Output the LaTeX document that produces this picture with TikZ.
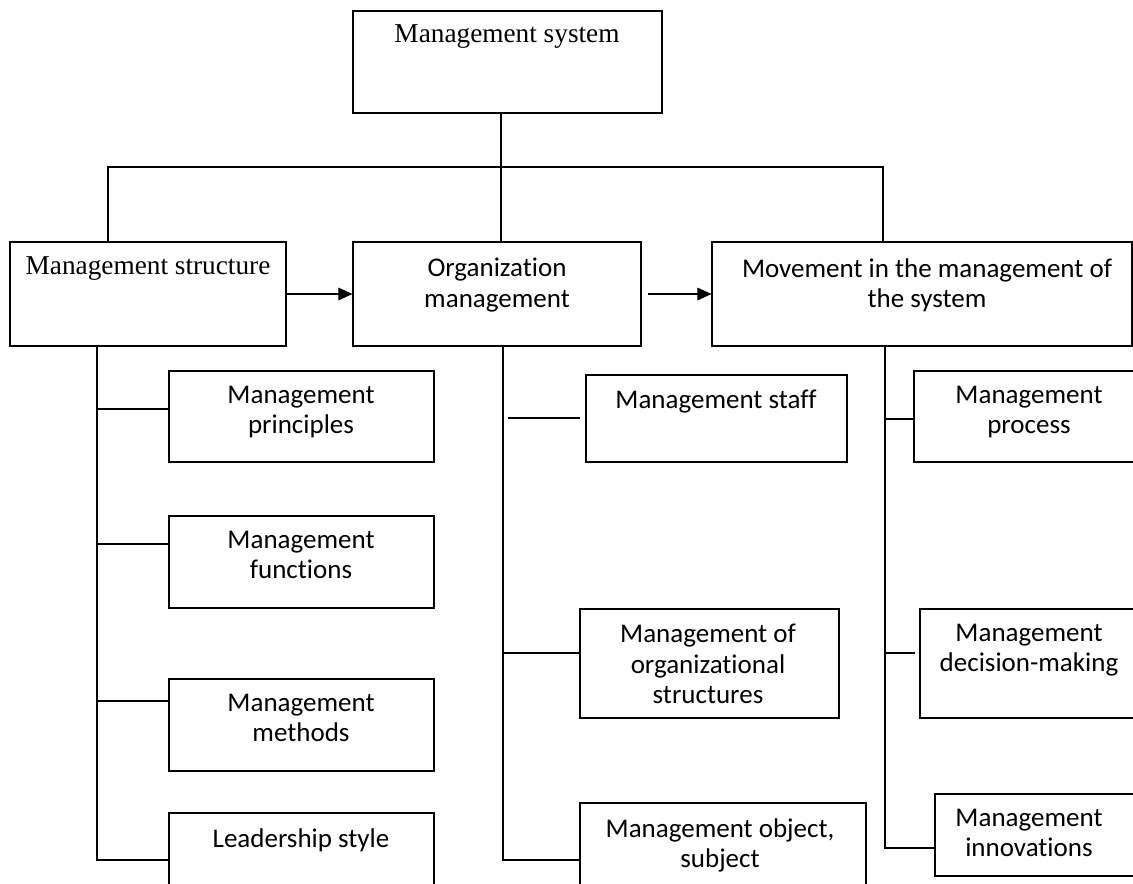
\documentclass[tikz,border=0pt]{standalone}
\usepackage{fontspec}
\setmainfont{Carlito}[Ligatures=NoCommon]
\newfontfamily\timesfont{Liberation Serif}
\usetikzlibrary{fit,arrows.meta,calc}
\tikzset{
  box/.style={draw, line width=0.8pt, inner sep=0pt},
  lbl/.style={anchor=north, inner sep=0pt, align=center, font=\fontsize{19.2}{21.5}\selectfont},
  tlbl/.style={anchor=north, inner sep=0pt, align=center, font=\timesfont\fontsize{19.4}{21.5}\selectfont},
  conn/.style={line width=0.8pt},
  arr/.style={conn, -{Triangle[length=10pt,width=9pt]}}
}
\begin{document}
\begin{tikzpicture}[x=0.025cm,y=-0.025cm]
\useasboundingbox (0,0) rectangle (1133,883);
\clip (0,0) rectangle (1133,883);
\fill[white] (0,0) rectangle (1133,883);
% boxes
\node[box, fit={(353,11)(662,113)}] (sys) {};
\node[box, fit={(10,242)(286,346)}] (struct) {};
\node[box, fit={(353,242)(641,346)}] (org) {};
\node[box, fit={(712,242)(1132,346)}] (mov) {};
\node[box, fit={(169,371)(434,462)}] (princ) {};
\node[box, fit={(169,516)(434,608)}] (func) {};
\node[box, fit={(169,679)(434,771)}] (meth) {};
\node[box, fit={(169,813)(434,905)}] (lead) {};
\node[box, fit={(586,375)(847,462)}] (staff) {};
\node[box, fit={(580,609)(839,718)}] (ostr) {};
\node[box, fit={(580,803)(866,905)}] (obj) {};
\node[box, fit={(914,371)(1145,462)}] (proc) {};
\node[box, fit={(920,609)(1145,718)}] (dec) {};
\node[box, fit={(935,794)(1145,876)}] (inno) {};
% texts
\node[tlbl] (tsys) at (507,24) {Management system};
\node[tlbl] (tstruct) at (148,256) {Management structure};
\node[lbl] (torg) at (497,258) {Organization\\management};
\node[lbl] (tmov) at (927,258) {Movement in the management of\\the system};
\node[lbl] (tprinc) at (301,386) {Management\\principles};
\node[lbl] (tfunc) at (301,531) {Management\\functions};
\node[lbl] (tmeth) at (301,694) {Management\\methods};
\node[lbl] (tlead) at (301,828) {Leadership style};
\node[lbl] (tstaff) at (716,390) {Management staff};
\node[lbl] (tostr) at (708,624) {Management of\\organizational\\structures};
\node[lbl] (tobj) at (720,818) {Management object,\\subject};
\node[lbl] (tproc) at (1029,386) {Management\\process};
\node[lbl] (tdec) at (1029,624) {Management\\decision-making};
\node[lbl] (tinno) at (1029,809) {Management\\innovations};
% helper coordinates
\coordinate (cx) at (501,0);
\coordinate (lx) at (108,0);
\coordinate (rx) at (883,0);
\coordinate (bar) at (0,167);
\coordinate (ay) at (0,294);
\coordinate (tl) at (97,0);
\coordinate (tm) at (503,0);
\coordinate (tr) at (885,0);
\coordinate (ym1) at (508,418);
\coordinate (ym2) at (580,418);
% top tree
\draw[conn] (sys.south -| cx) -- (org.north -| cx);
\draw[conn] (struct.north -| lx) -- (lx |- bar) -- (rx |- bar) -- (mov.north -| rx);
% arrows
\draw[arr] (struct.east |- ay) -- (org.west |- ay);
\draw[arr] ($(org.east |- ay)+(6,0)$) -- (mov.west |- ay);
% left trunk
\draw[conn] (struct.south -| tl) -- (tl |- 0,860) -- (lead.west |- 0,860);
\draw[conn] (tl |- 0,409) -- (princ.west |- 0,409);
\draw[conn] (tl |- 0,544) -- (func.west |- 0,544);
\draw[conn] (tl |- 0,701) -- (meth.west |- 0,701);
% middle trunk
\draw[conn] (org.south -| tm) -- (tm |- 0,860) -- (obj.west |- 0,860);
\draw[conn] (ym1) -- (ym2);
\draw[conn] (tm |- 0,653) -- (ostr.west |- 0,653);
% right trunk
\draw[conn] (mov.south -| tr) -- (tr |- 0,848) -- (inno.west |- 0,848);
\draw[conn] (tr |- 0,419) -- (proc.west |- 0,419);
\draw[conn] (tr |- 0,653) -- (915,653);
\end{tikzpicture}
\end{document}
